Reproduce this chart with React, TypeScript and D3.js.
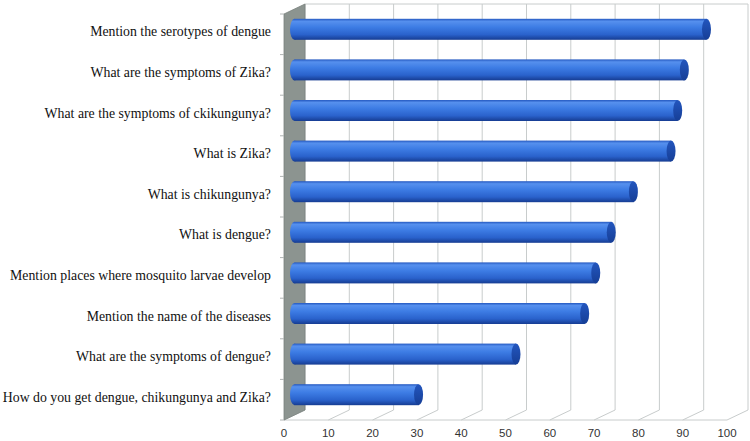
import React from "react";
import * as d3 from "d3";

const categories = [
  "Mention the serotypes of dengue",
  "What are the symptoms of Zika?",
  "What are the symptoms of ckikungunya?",
  "What is Zika?",
  "What is chikungunya?",
  "What is dengue?",
  "Mention places where mosquito larvae develop",
  "Mention the name of the diseases",
  "What are the symptoms of dengue?",
  "How do you get dengue, chikungunya and Zika?",
];
const values = [93, 88, 86.5, 85, 76.5, 71.5, 68, 65.5, 50, 28];
const ticks = [0, 10, 20, 30, 40, 50, 60, 70, 80, 90, 100];

const W = 750;
const H = 441;
const DX = 21;
const DY = -10;

export default function App() {
  const x = d3.scaleLinear().domain([0, 100]).range([284, 727]);
  const y = d3.scaleBand<string>().domain(categories).range([14, 420]).paddingInner(0).paddingOuter(0);
  const top = 14;
  const bottom = 420;
  const barH = 21;
  const midDX = DX / 2;
  const midDY = DY / 2;
  const rx = 4.5;

  return (
    <svg width={W} height={H} style={{ position: "absolute", left: 0, top: 0 }}>
      <defs>
        <linearGradient id="barGrad" x1="0" y1="0" x2="0" y2="1">
          <stop offset="0%" stopColor="#2458c0" />
          <stop offset="12%" stopColor="#5690ee" />
          <stop offset="40%" stopColor="#3d7ce4" />
          <stop offset="75%" stopColor="#2a62cc" />
          <stop offset="100%" stopColor="#163c92" />
        </linearGradient>
        <linearGradient id="capGrad" x1="0" y1="0" x2="0" y2="1">
          <stop offset="0%" stopColor="#2356be" />
          <stop offset="100%" stopColor="#163e96" />
        </linearGradient>
      </defs>
      <rect x={0} y={0} width={W} height={H} fill="#ffffff" />
      {ticks.map((t) => (
        <line
          key={"g" + t}
          x1={x(t) + DX}
          x2={x(t) + DX}
          y1={top + DY}
          y2={bottom + DY}
          stroke="#c8cccc"
          strokeWidth={1}
        />
      ))}
      <line x1={x(0) + DX} x2={x(100) + DX} y1={top + DY} y2={top + DY} stroke="#c8cccc" />
      {ticks.map((t) => (
        <line
          key={"f" + t}
          x1={x(t)}
          x2={x(t) + DX}
          y1={bottom}
          y2={bottom + DY}
          stroke="#c8cccc"
          strokeWidth={1}
        />
      ))}
      <line x1={x(0)} x2={x(100)} y1={bottom} y2={bottom} stroke="#c8cccc" />
      <polygon
        points={`${x(0)},${top} ${x(0) + DX},${top + DY} ${x(0) + DX},${bottom + DY} ${x(0)},${bottom}`}
        fill="#8c9490"
        stroke="#7a827e"
        strokeWidth={0.8}
      />
      {categories.map((c, i) => (
        <line key={"ct" + i} x1={x(0) - 4} x2={x(0)} y1={y(c)!} y2={y(c)!} stroke="#b0b4b4" />
      ))}
      <line x1={x(0) - 4} x2={x(0)} y1={bottom} y2={bottom} stroke="#b0b4b4" />
      {categories.map((c, i) => {
        const cy = y(c)! + y.bandwidth() / 2 + midDY;
        const x0 = x(0) + midDX;
        const x1 = x(values[i]) + midDX;
        return (
          <g key={"b" + i}>
            <ellipse cx={x0} cy={cy} rx={rx} ry={barH / 2} fill="url(#barGrad)" />
            <rect x={x0} y={cy - barH / 2} width={x1 - x0} height={barH} fill="url(#barGrad)" />
            <ellipse cx={x1} cy={cy} rx={rx} ry={barH / 2} fill="url(#capGrad)" />
          </g>
        );
      })}
      {categories.map((c, i) => (
        <text
          key={"l" + i}
          x={271}
          y={y(c)! + y.bandwidth() / 2 - 1}
          textAnchor="end"
          dominantBaseline="middle"
          fontFamily="'Times New Roman', 'Liberation Serif', Times, serif"
          fontSize={13.8}
          fill="#111"
        >
          {c}
        </text>
      ))}
      {ticks.map((t) => (
        <text
          key={"t" + t}
          x={x(t)}
          y={433.5}
          textAnchor="middle"
          dominantBaseline="middle"
          fontFamily="'Liberation Sans', Arial, sans-serif"
          fontSize={11.5}
          fill="#333"
        >
          {t}
        </text>
      ))}
    </svg>
  );
}
